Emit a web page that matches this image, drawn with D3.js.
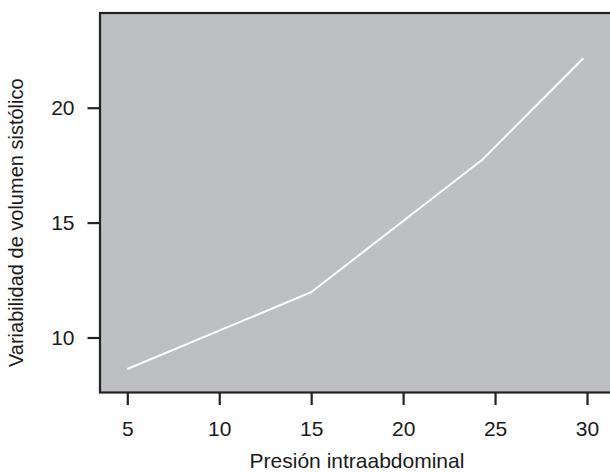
<!DOCTYPE html>
<html>
<head>
<meta charset="utf-8">
<script src="https://cdn.jsdelivr.net/npm/d3@7"></script>
<style>
  html, body { margin: 0; padding: 0; background: #ffffff; }
  svg { display: block; }
  text { font-family: "Liberation Sans", Arial, Helvetica, sans-serif; fill: #1a1a1a; }
</style>
</head>
<body>
<svg id="chart" width="610" height="472"></svg>
<script>
// ---- data ----
const presion = [5, 15, 24.3, 29.8];
const variabilidad = [8.63, 11.97, 17.73, 22.15];
const xTicks = [5, 10, 15, 20, 25, 30];
const yTicks = [10, 15, 20];
const xTitle = "Presión intraabdominal";
const yTitle = "Variabilidad de volumen sistólico";

// ---- layout ----
const svg = d3.select("#chart");

const x = d3.scaleLinear().domain([5, 30]).range([127.3, 587]);
const y = d3.scaleLinear().domain([10, 20]).range([337.5, 107.7]);

const pLeft = 100, pRight = 614, pTop = 13, pBottom = 392.5;

// panel
svg.append("rect")
  .attr("x", pLeft).attr("y", pTop)
  .attr("width", pRight - pLeft).attr("height", pBottom - pTop)
  .attr("fill", "#bebfc3")
  .attr("stroke", "#222222")
  .attr("stroke-width", 2.2);

// line
const pts = presion.map((d, i) => [d, variabilidad[i]]);
svg.append("path")
  .datum(pts)
  .attr("fill", "none")
  .attr("stroke", "#ffffff")
  .attr("stroke-width", 2)
  .attr("d", d3.line().x(d => x(d[0])).y(d => y(d[1])));

// x axis
const xAxis = d3.axisBottom(x).tickValues(xTicks).tickSize(12).tickPadding(16).tickFormat(d3.format("d"));
const gx = svg.append("g").attr("transform", `translate(0,${pBottom + 0.5})`).call(xAxis);
gx.select(".domain").remove();
gx.selectAll(".tick line").attr("stroke", "#222222").attr("stroke-width", 2.2);
gx.selectAll(".tick text").attr("font-size", 21).attr("fill", "#1a1a1a")
  .attr("font-family", "'Liberation Sans', Arial, sans-serif");

// y axis
const yAxis = d3.axisLeft(y).tickValues(yTicks).tickSize(12).tickPadding(13).tickFormat(d3.format("d"));
const gy = svg.append("g").attr("transform", `translate(${pLeft - 0.5},0)`).call(yAxis);
gy.select(".domain").remove();
gy.selectAll(".tick line").attr("stroke", "#222222").attr("stroke-width", 2.2);
gy.selectAll(".tick text").attr("font-size", 21).attr("fill", "#1a1a1a")
  .attr("font-family", "'Liberation Sans', Arial, sans-serif");

// titles
svg.append("text")
  .attr("x", 357).attr("y", 468)
  .attr("text-anchor", "middle")
  .attr("font-size", 21)
  .text(xTitle);

svg.append("text")
  .attr("transform", `translate(23,${(pTop + pBottom) / 2 + 20}) rotate(-90)`)
  .attr("text-anchor", "middle")
  .attr("font-size", 20)
  .text(yTitle);
</script>
</body>
</html>
